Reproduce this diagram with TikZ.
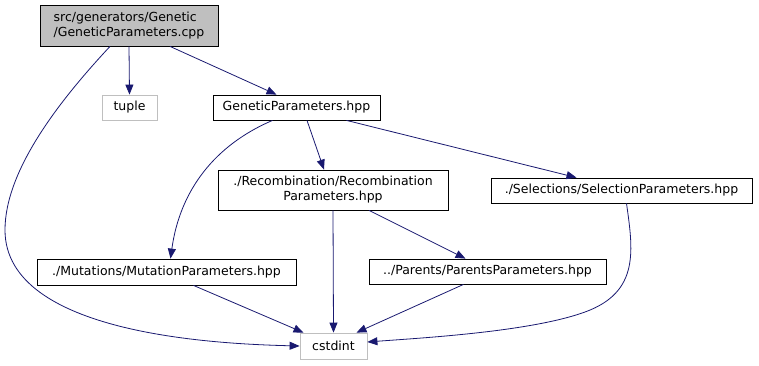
\documentclass[tikz,border=0pt]{standalone}
\usepackage{fontspec}
\setmainfont{DejaVu Sans}
\usetikzlibrary{arrows.meta}
\definecolor{edgeblue}{HTML}{191970}
\definecolor{softgray}{HTML}{BFBFBF}
\tikzset{
  filebox/.style={draw=black, line width=0.8pt, inner sep=0pt, font=\fontsize{12.5}{15}\selectfont, align=center},
  sysbox/.style={filebox, draw=softgray},
  rootbox/.style={filebox, fill=softgray, align=left},
  dep/.style={draw=edgeblue, line width=0.8pt, -{Triangle[length=10pt,width=8pt]}, edgeblue},
}
\begin{document}
\begin{tikzpicture}[x=1pt,y=-1pt]
\useasboundingbox (0,0) rectangle (759,365);
% files
\node[rootbox, minimum width=178pt, minimum height=41pt] (root) at (129,25.5)
  {src/generators/Genetic\\/GeneticParameters.cpp};
\node[sysbox, minimum width=55pt, minimum height=25pt] (tuple) at (129.5,107.5) {tuple};
\node[filebox, minimum width=167pt, minimum height=25pt] (gp) at (296.5,107.5) {GeneticParameters.hpp};
\node[filebox, minimum width=230pt, minimum height=40pt] (rec) at (333,190)
  {./Recombination/Recombination\\Parameters.hpp};
\node[filebox, minimum width=261pt, minimum height=25pt] (sel) at (621.5,190.5) {./Selections/SelectionParameters.hpp};
\node[filebox, minimum width=259pt, minimum height=26pt] (mut) at (166.5,272) {./Mutations/MutationParameters.hpp};
\node[filebox, minimum width=237pt, minimum height=25pt] (par) at (487.5,271.5) {../Parents/ParentsParameters.hpp};
\node[sysbox, minimum width=67pt, minimum height=26pt] (cst) at (333.5,346) {cstdint};
% include edges
\draw[dep] (root.south) -- (tuple.north);
\draw[dep] ([xshift=41pt]root.south) -- ([xshift=-20pt]gp.north);
\draw[dep] ([xshift=-19pt]root.south) .. controls (60,100) and (5,170) .. (5,230)
  .. controls (5,335) and (220,344) .. (cst.west);
\draw[dep] ([xshift=10.5pt]gp.south) -- ([xshift=-9pt]rec.north);
\draw[dep] ([xshift=-24pt]gp.south) .. controls (215,145) and (180,190) .. ([xshift=4pt]mut.north);
\draw[dep] ([xshift=50pt]gp.south) -- ([xshift=-45pt]sel.north);
\draw[dep] (rec.south) -- (cst.north);
\draw[dep] ([xshift=36pt]rec.south) -- ([xshift=-22pt]par.north);
\draw[dep] ([xshift=27pt]mut.south) -- ([xshift=-30pt]cst.north);
\draw[dep] ([xshift=-24pt]par.south) -- ([xshift=23pt]cst.north);
\draw[dep] ([xshift=5pt]sel.south) .. controls (633,250) and (640,292) .. (585,312)
  .. controls (530,332) and (420,338) .. ([yshift=4pt]cst.east);
\end{tikzpicture}
\end{document}
